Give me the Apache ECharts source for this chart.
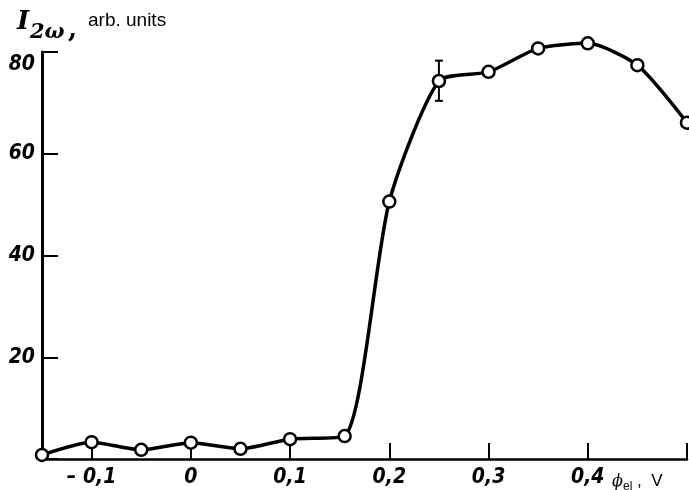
<!DOCTYPE html>
<html>
<head>
<meta charset="utf-8">
<style>
  html, body { margin: 0; padding: 0; background: #fff; }
  #chart { width: 689px; height: 490px; }
</style>
<script src="https://cdn.jsdelivr.net/npm/echarts@6/dist/echarts.min.js"></script>
</head>
<body>
<div id="chart"></div>
<script>
// potential (V) and second harmonic intensity (arb. units)
const phi = [-0.15, -0.1, -0.05, 0, 0.05, 0.1, 0.155, 0.2, 0.25, 0.3, 0.35, 0.4, 0.45, 0.5];
const intensity = [0.8, 3.3, 1.8, 3.2, 2.0, 3.9, 4.5, 50.6, 74.3, 76.1, 80.7, 81.7, 77.4, 66.1];
// error bar at one point
const errPhi = [0.25];
const errLow = [70.4];
const errHigh = [78.3];
const xTicks = [-0.1, 0, 0.1, 0.2, 0.3, 0.4, 0.5];
const xLabels = [-0.1, 0, 0.1, 0.2, 0.3, 0.4];

const tickFont = '"Liberation Sans Narrow", "DejaVu Sans Condensed", sans-serif';

const chart = echarts.init(document.getElementById('chart'));

const option = {
  animation: false,
  grid: { left: 42, right: 2, top: 52, bottom: 31, containLabel: false },
  xAxis: {
    type: 'value',
    min: -0.15,
    max: 0.5,
    splitLine: { show: false },
    axisLine: { onZero: false, lineStyle: { color: '#000', width: 2.5 } },
    axisTick: {
      inside: true,
      length: 16,
      customValues: xTicks,
      lineStyle: { color: '#000', width: 2 }
    },
    axisLabel: {
      customValues: xLabels,
      margin: 8,
      color: '#000',
      fontFamily: tickFont,
      fontStyle: 'italic',
      fontWeight: 'bold',
      fontSize: 21,
      formatter: v => {
        const s = String(Math.round(v * 10) / 10).replace('.', ',');
        return s.startsWith('-') ? '\u2013 ' + s.slice(1) : s;
      }
    }
  },
  yAxis: {
    type: 'value',
    min: 0,
    max: 80,
    interval: 20,
    splitLine: { show: false },
    axisLine: { onZero: false, lineStyle: { color: '#000', width: 3 } },
    axisTick: { inside: true, length: 16, lineStyle: { color: '#000', width: 2 } },
    axisLabel: {
      margin: 7,
      color: '#000',
      fontFamily: tickFont,
      fontStyle: 'italic',
      fontWeight: 'bold',
      fontSize: 21,
      formatter: v => (v === 0 ? '' : v === 80 ? '{top|80}' : String(v)),
      rich: {
        top: {
          fontFamily: tickFont, fontStyle: 'italic', fontWeight: 'bold',
          fontSize: 21, color: '#000', padding: [26, 0, 0, 0]
        }
      }
    }
  },
  graphic: [
    {
      type: 'text', left: 17, top: 9,
      style: { text: 'I', font: 'italic bold 26px "DejaVu Serif", serif', fill: '#000' }
    },
    {
      type: 'text', left: 30, top: 22,
      style: { text: '2ω', font: 'italic bold 21px "DejaVu Serif", serif', fill: '#000' }
    },
    {
      type: 'text', left: 68, top: 17,
      style: { text: ',', font: 'bold 26px "DejaVu Serif", serif', fill: '#000' }
    },
    {
      type: 'text', left: 88, top: 11,
      style: { text: 'arb. units', font: '19px "Liberation Sans", Arial, sans-serif', fill: '#000' }
    },
    {
      type: 'text', left: 612, top: 474,
      style: { text: 'ϕ', font: 'italic 16px "DejaVu Serif", serif', fill: '#000' }
    },
    {
      type: 'text', left: 623, top: 481,
      style: { text: 'el', font: '12px "Liberation Sans", Arial, sans-serif', fill: '#000' }
    },
    {
      type: 'text', left: 637, top: 473,
      style: { text: ',  V', font: '17px "Liberation Sans", Arial, sans-serif', fill: '#000' }
    }
  ],
  series: [
    {
      type: 'line',
      data: phi.map((x, i) => [x, intensity[i]]),
      smooth: 0.22,
      clip: false,
      symbol: 'circle',
      symbolSize: 12,
      lineStyle: { color: '#000', width: 3.5 },
      itemStyle: { color: '#fff', borderColor: '#000', borderWidth: 2.5 },
      z: 3
    },
    {
      type: 'custom',
      clip: false,
      z: 2,
      data: errPhi.map((x, i) => [x, errLow[i], errHigh[i]]),
      renderItem: (params, api) => {
        const lo = api.coord([api.value(0), api.value(1)]);
        const hi = api.coord([api.value(0), api.value(2)]);
        const w = 4;
        const st = { stroke: '#000', lineWidth: 2 };
        return {
          type: 'group',
          children: [
            { type: 'line', shape: { x1: lo[0], y1: lo[1], x2: hi[0], y2: hi[1] }, style: st },
            { type: 'line', shape: { x1: lo[0] - w, y1: lo[1], x2: lo[0] + w, y2: lo[1] }, style: st },
            { type: 'line', shape: { x1: hi[0] - w, y1: hi[1], x2: hi[0] + w, y2: hi[1] }, style: st }
          ]
        };
      }
    }
  ]
};

chart.setOption(option);
</script>
</body>
</html>
